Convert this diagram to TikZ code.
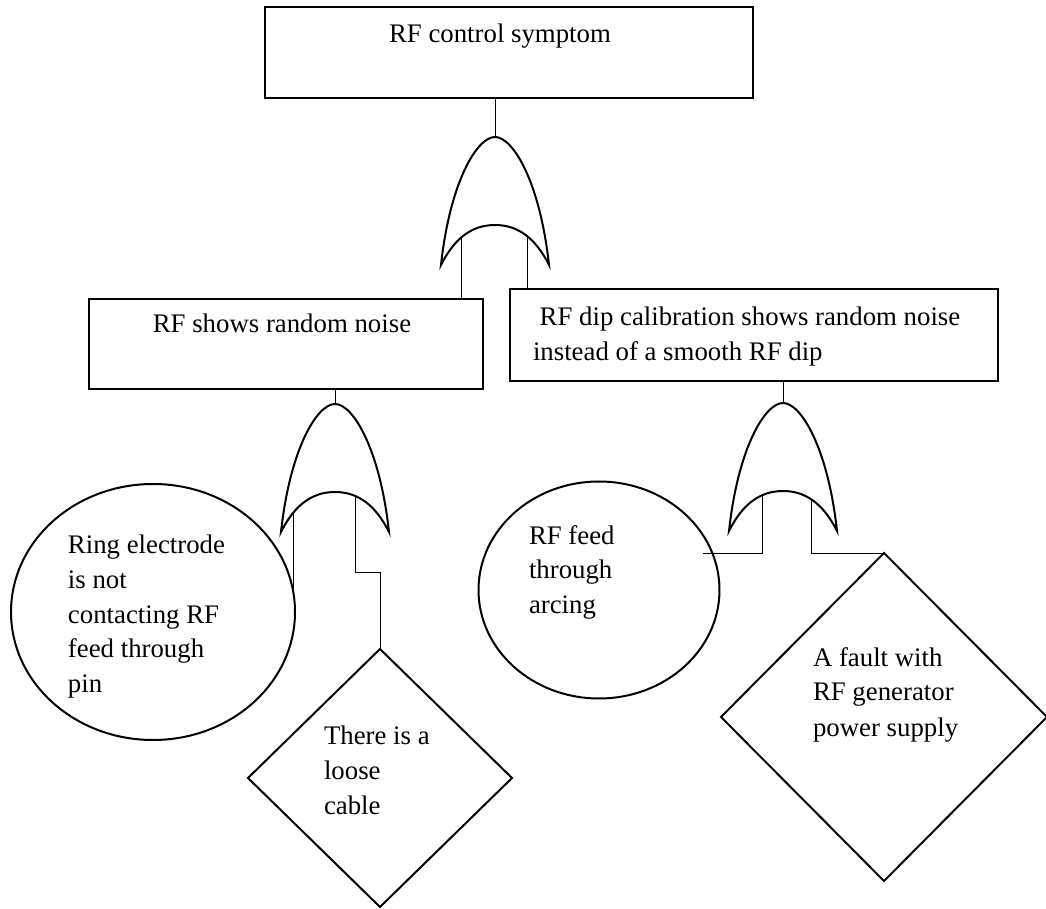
\documentclass[tikz,border=0pt]{standalone}
\usepackage{fontspec}
\setmainfont{Liberation Serif}
\usetikzlibrary{shapes.geometric,backgrounds,calc}
\begin{document}
\begin{tikzpicture}[x=0.5pt,y=-0.5pt,
  line width=1pt,
  every node/.style={inner sep=0pt, outer sep=0pt},
  evbox/.style={draw, rectangle, line width=1.2pt},
  basicev/.style={draw, ellipse},
  undevev/.style={draw, diamond},
  txt/.style={font=\fontsize{13.4}{17.5}\selectfont, align=left, anchor=base west},
  gatebody/.style={draw, fill=white, line join=miter},
  orgate/.pic={
    % OR gate: pointed top, curved inputs side
    \path[gatebody] (0,0) .. controls (-18,0) and (-45,45) .. (-54,128)
      .. controls (-40,100) and (-22,88) .. (0,88)
      .. controls (22,88) and (40,100) .. (54,128)
      .. controls (45,45) and (18,0) .. (0,0) -- cycle;
    \coordinate (-top) at (0,0);
  }
]
\useasboundingbox (0,0) rectangle (1046,909);

% events
\node[evbox, minimum width=244pt, minimum height=45.5pt] (top) at (509,52.5) {};
\node[evbox, minimum width=197pt, minimum height=45pt] (lbox) at (286,344) {};
\node[evbox, minimum width=244pt, minimum height=46pt] (rbox) at (754,335) {};

% basic and undeveloped events
\node[basicev, minimum width=142pt, minimum height=128pt] (le) at (153,612) {};
\node[undevev, minimum width=132pt, minimum height=129pt] (ld) at (380,778) {};
\node[basicev, minimum width=120.5pt, minimum height=108.5pt] (re) at (599,590) {};
\node[undevev, minimum width=163pt, minimum height=164pt] (rd) at (884,717) {};

% gates
\pic (g1) at (495,137) {orgate};
\pic (g2) at (335,404) {orgate};
\pic (g3) at (783,403) {orgate};
\coordinate (g1-inL) at (461,222);
\coordinate (g1-inR) at (527,222);
\coordinate (g2-inL) at (293,489);
\coordinate (g2-inR) at (355,489);
\coordinate (g3-inL) at (762,488);
\coordinate (g3-inR) at (811,488);
\coordinate (reTip) at (703,553);

% texts (anchored on the baseline of the last line)
\node[txt, anchor=base] (t1) at (500,43) {RF control symptom};
\node[txt, anchor=base] (t2) at (282,333) {RF shows random noise};
\node[txt] (t3) at (533,361) {\hspace*{0.25em}RF dip calibration shows random noise\\instead of a smooth RF dip};
\node[txt] (t4) at (68,693) {Ring electrode\\is not\\contacting RF\\feed through\\pin};
\node[txt] (t5) at (324,814) {There is a\\loose\\cable};
\node[txt] (t6) at (529,614) {RF feed\\through\\arcing};
\node[txt] (t7) at (813,736) {A fault with\\RF generator\\power supply};

% connectors, kept beneath the gate bodies
\begin{scope}[on background layer]
  \fill[white] (0,0) rectangle (1046,909);
  \draw (g1-top) -- (g1-top |- top.south);
  \draw (g1-inL) -- (g1-inL |- lbox.north);
  \draw (g1-inR) -- (g1-inR |- rbox.north);
  \draw (g2-top) -- (g2-top |- lbox.south);
  \draw (g2-inL) -- (g2-inL |- le.8);
  \draw (g2-inR) |- ($(ld.north)+(0,-77)$) -- (ld.north);
  \draw (g3-top) -- (g3-top |- rbox.south);
  \draw (g3-inL) |- (reTip);
  \draw (g3-inR) |- (rd.north);
\end{scope}
\end{tikzpicture}
\end{document}
